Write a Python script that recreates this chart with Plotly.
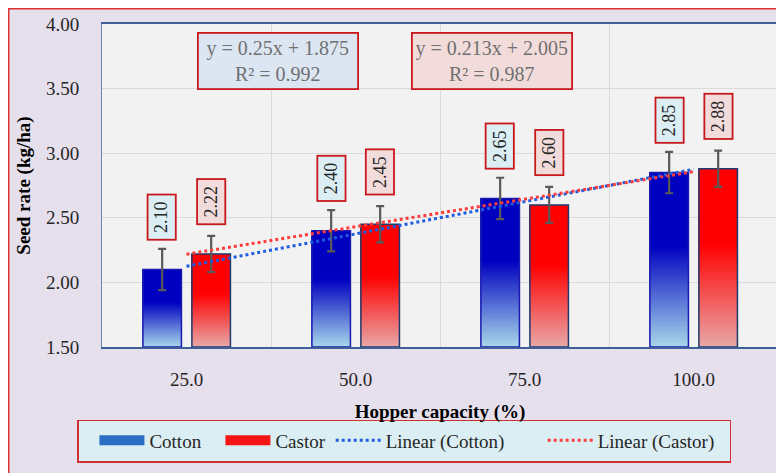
import numpy as np
import plotly.graph_objects as go

# ---------------- data ----------------
capacity = [25, 50, 75, 100]                 # hopper capacity (%)
cotton = [2.10, 2.40, 2.65, 2.85]            # seed rate (kg/ha)
castor = [2.22, 2.45, 2.60, 2.88]
cotton_err = [0.16, 0.16, 0.16, 0.16]
castor_err = [0.14, 0.14, 0.14, 0.14]
y_ticks = [1.50, 2.00, 2.50, 3.00, 3.50, 4.00]
eq_cotton = "y = 0.25x + 1.875<br>R² = 0.992"
eq_castor = "y = 0.213x + 2.005<br>R² = 0.987"

# ---------------- style ----------------
Y_MIN, Y_MAX = 1.5, 4.0
W = 0.228
OFF_COTTON = -0.258
OFF_CASTOR = 0.032
FONT = "Liberation Serif"
TXT = "#262626"
LAVENDER = "#E6DFEC"
PLOT_BG = "#F2F2F2"
SP = "\u00a0"

xi = np.arange(1, len(capacity) + 1)

fig = go.Figure()


def hex_rgb(h):
    h = h.lstrip("#")
    return np.array([int(h[i:i + 2], 16) for i in (0, 2, 4)], dtype=float)


def add_gradient_bars(values, err, offset, top_hex, bottom_hex, line_color):
    vals = np.array(values)
    h = vals - Y_MIN
    g = 0.58          # share of bar height covered by the gradient
    n = 40
    top, bot = hex_rgb(top_hex), hex_rgb(bottom_hex)
    for i in range(n):
        t = (i + 0.5) / n
        c = bot + (top - bot) * t
        col = "rgb(%d,%d,%d)" % tuple(c.round())
        base = Y_MIN + h * g * i / n
        fig.add_trace(go.Bar(
            x=xi, y=vals - base, base=base,
            offset=offset, width=W,
            marker=dict(color=col, line=dict(width=0)),
            showlegend=False, hoverinfo="skip"))
    fig.add_trace(go.Bar(
        x=xi, y=h * (1 - g), base=Y_MIN + h * g,
        offset=offset, width=W,
        marker=dict(color=top_hex, line=dict(width=0)),
        showlegend=False, hoverinfo="skip"))
    fig.add_trace(go.Bar(
        x=xi, y=h, base=Y_MIN, offset=offset, width=W,
        marker=dict(color="rgba(0,0,0,0)", line=dict(color=line_color, width=1.5)),
        error_y=dict(type="data", array=err, color="#595959", thickness=2.2, width=4),
        showlegend=False, hoverinfo="skip"))


add_gradient_bars(cotton, cotton_err, OFF_COTTON, "#0000C0", "#A8D8EA", "#1A1AB0")
add_gradient_bars(castor, castor_err, OFF_CASTOR, "#FF0000", "#E8A8A8", "#1F3A6E")

# legend-only swatches
fig.add_trace(go.Scatter(x=[None], y=[None], mode="lines", name="Cotton" + SP * 3,
                         line=dict(color="#2A6FC4", width=11)))
fig.add_trace(go.Scatter(x=[None], y=[None], mode="lines", name="Castor",
                         line=dict(color="#F51515", width=11)))

# linear trendlines fitted to the data
for vals, name, col in [(cotton, "Linear (Cotton)" + SP * 7, "#1F5CE0"),
                        (castor, "Linear (Castor)" + SP * 2, "#FF3B3B")]:
    fit = np.polyfit(xi, vals, 1)
    fig.add_trace(go.Scatter(x=xi, y=np.polyval(fit, xi), mode="lines", name=name,
                             line=dict(color=col, width=3, dash="dot"),
                             hoverinfo="skip"))

# data labels
for vals, err, off, bg in [(cotton, cotton_err, OFF_COTTON, "#DAEEF3"),
                           (castor, castor_err, OFF_CASTOR, "#F2DCDB")]:
    for x, v in zip(xi, vals):
        fig.add_annotation(x=x + off + W / 2, y=v, yshift=52, text="%.2f" % v,
                           textangle=-90, showarrow=False,
                           font=dict(family=FONT, size=18, color=TXT),
                           bgcolor=bg, bordercolor="#C8181E", borderwidth=1.8,
                           borderpad=2, width=39, height=22)

# equation boxes
for txt, x, bg in [(eq_cotton, 1.544, "#DCE6F2"), (eq_castor, 2.805, "#F2DCDB")]:
    fig.add_annotation(x=x, y=3.71, text=txt, showarrow=False,
                       font=dict(family=FONT, size=20, color="#707070"),
                       bgcolor=bg, bordercolor="#C8181E", borderwidth=1.8,
                       borderpad=3, width=152)

# chart-area frame (lavender fill, red border) along the figure edges
fig.add_shape(type="rect", xref="paper", yref="paper",
              x0=-0.138, x1=1.03, y0=-0.45, y1=1.0472,
              fillcolor=LAVENDER, line=dict(color="#E03030", width=1.5),
              layer="below")
# plot-area background (drawn over the frame fill, under the gridlines)
fig.add_shape(type="rect", xref="paper", yref="paper",
              x0=0, x1=1, y0=0, y1=1,
              fillcolor=PLOT_BG, line=dict(width=0), layer="below")

fig.update_layout(
    width=784, height=473,
    margin=dict(l=94, r=14, t=16, b=134, autoexpand=False),
    paper_bgcolor=LAVENDER, plot_bgcolor=PLOT_BG,
    barmode="overlay",
    font=dict(family=FONT, size=19, color=TXT),
    showlegend=True,
    legend=dict(orientation="h", x=0.447, xanchor="center", y=-0.226, yanchor="top",
                bgcolor="#DAEEF3", bordercolor="#D03030", borderwidth=1.5,
                font=dict(family=FONT, size=19, color=TXT), itemwidth=45,
                title=dict(text=SP, side="left")),
    xaxis=dict(range=[0.5, 4.5], tickmode="array", tickvals=xi,
               ticktext=["%.1f" % c for c in capacity],
               showgrid=False, zeroline=False, automargin=False,
               showline=True, mirror=True, linecolor="#3F5F99", linewidth=1.5,
               ticks="outside", ticklen=14, tickcolor="rgba(0,0,0,0)",
               tickfont=dict(family=FONT, size=19, color=TXT),
               minor=dict(tickvals=[1.5, 2.5, 3.5], showgrid=True,
                          gridcolor="#D9D9D9", gridwidth=1, ticks=""),
               title=dict(text="<b>Hopper capacity (%)</b>", standoff=16,
                          font=dict(family=FONT, size=19, color="black"))),
    yaxis=dict(range=[Y_MIN, Y_MAX], tickmode="array", tickvals=y_ticks,
               tickformat=".2f", showgrid=True, gridcolor="#D9D9D9", gridwidth=1,
               zeroline=False, showline=True, mirror=True, automargin=False,
               linecolor="#6C86B4", linewidth=1,
               ticks="outside", ticklen=18, tickcolor="rgba(0,0,0,0)",
               tickfont=dict(family=FONT, size=19, color=TXT),
               title=dict(text="<b>Seed rate (kg/ha)</b>", standoff=10,
                          font=dict(family=FONT, size=19, color="black"))),
)

fig.write_html("out.html")
